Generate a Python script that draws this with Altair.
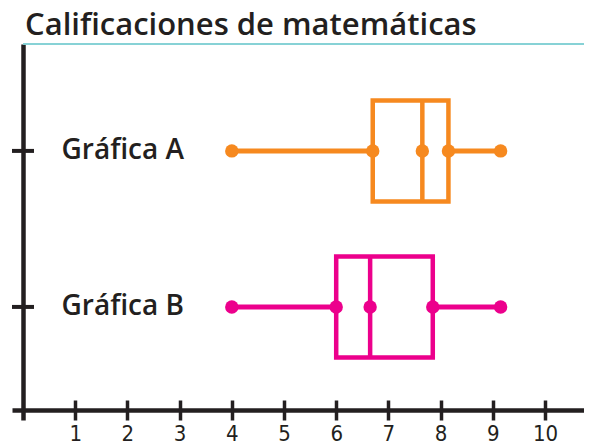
import altair as alt
import pandas as pd

# --- data ---
categorias = ["Gráfica A", "Gráfica B"]
minimo = [4.0, 4.0]
q1 = [6.7, 6.0]
mediana = [7.65, 6.65]
q3 = [8.15, 7.85]
maximo = [9.15, 9.15]
colores = ["#F6891F", "#EC008C"]
ticks_x = [1, 2, 3, 4, 5, 6, 7, 8, 9, 10]

df = pd.DataFrame({
    "cat": categorias,
    "minimo": minimo,
    "q1": q1,
    "mediana": mediana,
    "q3": q3,
    "maximo": maximo,
})

puntos = pd.DataFrame([
    {"cat": c, "valor": v}
    for c, a, b, m, d, e in zip(categorias, minimo, q1, mediana, q3, maximo)
    for v in (a, b, m, d, e)
])

INK = "#231F20"
XDOM = [-0.2107, 10.747]
xscale = alt.Scale(domain=XDOM, nice=False, zero=False)
yscale = alt.Scale(type="point", domain=categorias, padding=0.705, align=0.486)
cscale = alt.Scale(domain=categorias, range=colores)

x_axis = alt.Axis(
    orient="bottom", offset=-10, values=ticks_x, grid=False, title=None,
    domainColor=INK, domainWidth=4.5, domainCap="butt",
    tickColor=INK, tickWidth=3.5, tickSize=10,
    labelFont="DejaVu Sans Condensed, Roboto Condensed, Roboto, sans-serif",
    labelFontSize=22, labelColor=INK,
    labelPadding=3, labelFlush=False,
)
y_axis = alt.Axis(
    orient="left", offset=-11, grid=False, title=None, ticks=False,
    domainColor=INK, domainWidth=4.5,
    labelFont="Open Sans", labelFontSize=28, labelFontWeight=600,
    labelColor=INK, labelAlign="left", labelBaseline="middle",
    labelPadding=-38,
)


def X(field):
    return alt.X(f"{field}:Q", scale=xscale, axis=x_axis)


Y = alt.Y("cat:N", scale=yscale, axis=y_axis, sort=categorias)
COL = alt.Color("cat:N", scale=cscale, legend=None)

bigote = alt.Chart(df).mark_rule(strokeWidth=5).encode(
    x=X("minimo"), x2="maximo", y=Y, color=COL
)
caja = alt.Chart(df).mark_bar(size=101, fill="white", strokeWidth=4.5).encode(
    x=X("q1"), x2="q3", y=Y,
    stroke=alt.Stroke("cat:N", scale=cscale, legend=None),
)
med = alt.Chart(df).mark_tick(thickness=4.5, size=101, opacity=1).encode(
    x=X("mediana"), y=Y, color=COL
)
pts = alt.Chart(puntos).mark_circle(size=180, opacity=1).encode(
    x=X("valor"), y=Y, color=COL
)
linea_titulo = alt.Chart(df).mark_rule(color="#7FCFD3", strokeWidth=1.5).encode(
    x=alt.XDatum(0, type="quantitative", scale=xscale, axis=x_axis),
    x2=alt.X2Datum(XDOM[1]),
    y=alt.value(0),
)

main = alt.layer(bigote, caja, med, pts, linea_titulo)

top_axis = alt.Axis(
    orient="top", offset=-366, values=ticks_x, grid=False, title=None,
    domain=False, labels=False, tickColor=INK, tickWidth=3.5, tickSize=10,
)
yticks = alt.Chart(df).mark_tick(
    orient="horizontal", size=22, thickness=4, color=INK, opacity=1
).encode(
    x=alt.XDatum(0, type="quantitative", scale=xscale, axis=top_axis),
    y=Y,
)

chart = alt.layer(main, yticks).resolve_scale(x="independent").properties(
    width=572,
    height=376,
    autosize=alt.AutoSizeParams(type="none"),
    padding={"left": 4, "top": 36, "right": 0, "bottom": 27},
    title=alt.TitleParams(
        "Calificaciones de matemáticas", anchor="start", frame="group",
        font="Open Sans", fontSize=31, fontWeight=600, color=INK,
        dx=13, dy=5, offset=6,
    ),
).configure_view(strokeWidth=0)

chart.save("out.html", embed_options={"renderer": "svg", "actions": False})
